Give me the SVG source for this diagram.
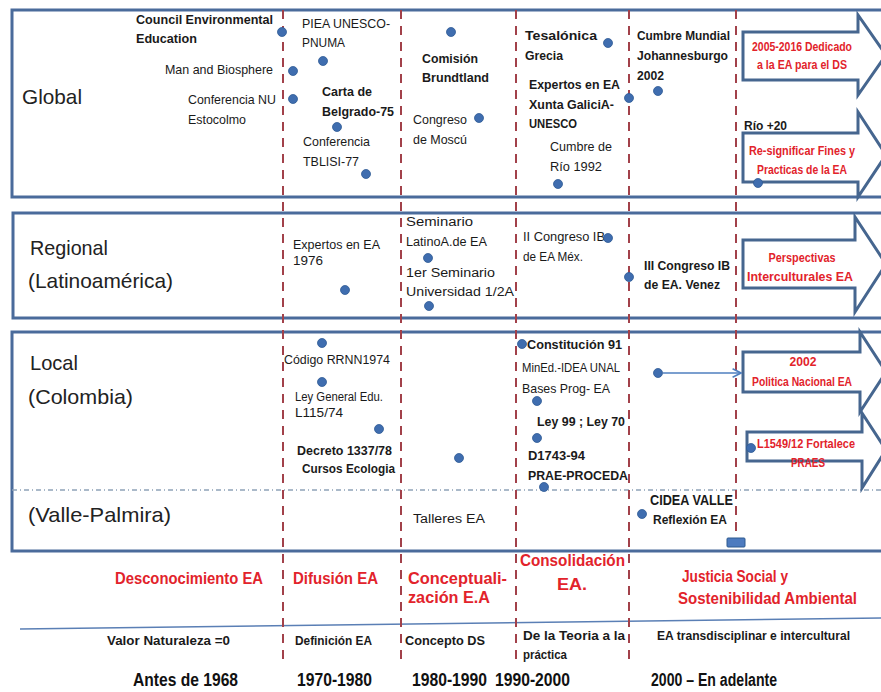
<svg xmlns="http://www.w3.org/2000/svg" width="881" height="692" viewBox="0 0 881 692">
<style>
.box{fill:none;stroke:#4a6b9b;stroke-width:3}
.vd{stroke:#a2414a;stroke-width:2;stroke-dasharray:9 7}
.dot{fill:#3f6daf;stroke:#2f5a94;stroke-width:0.8}
.arrow{fill:#fff;stroke:#46668f;stroke-width:3;stroke-linejoin:miter}
text{font-family:"Liberation Sans",Arial,sans-serif;font-size:13px;fill:#1a1a1a}
.b{font-weight:bold}
.s12{font-size:12px}
.r{fill:#e2232b;font-weight:bold;text-anchor:middle;font-size:13px}
.rl{fill:#e2232b;font-weight:bold;font-size:16px}
.lbl{font-size:21px;fill:#222}
.yr{font-weight:bold;font-size:18px;fill:#111}
.sub{font-weight:bold;font-size:12px}
.conn{stroke:#4f7fbf;stroke-width:1.5;fill:none}
</style>
<defs>
<marker id="open" viewBox="0 0 10 10" refX="9" refY="5" markerWidth="7" markerHeight="7" orient="auto">
<path d="M1,1 L9,5 L1,9" fill="none" stroke="#4f7fbf" stroke-width="1.5"/>
</marker>
</defs>
<rect width="881" height="692" fill="#fff"/>

<g id="rows">
<rect class="box" x="12" y="10" width="900" height="187"/>
<rect class="box" x="13" y="213" width="900" height="105"/>
<rect class="box" x="12" y="332" width="900" height="219"/>
<line x1="12" y1="490" x2="881" y2="490" stroke="#8fa3b8" stroke-width="1.5" stroke-dasharray="5 3 1 3"/>
<line x1="20" y1="629" x2="881" y2="618" stroke="#5a7fb5" stroke-width="1.5"/>
</g>

<g id="dividers">
<line class="vd" x1="283" y1="10" x2="283" y2="662"/>
<line class="vd" x1="401" y1="10" x2="401" y2="662"/>
<line class="vd" x1="516" y1="10" x2="516" y2="664"/>
<line class="vd" x1="629" y1="10" x2="629" y2="664"/>
<line class="vd" x1="736" y1="10" x2="736" y2="552"/>
</g>

<g id="row-labels">
<text class="lbl" x="22" y="104" textLength="60" lengthAdjust="spacingAndGlyphs">Global</text>
<text class="lbl" x="30" y="255" textLength="78" lengthAdjust="spacingAndGlyphs">Regional</text>
<text class="lbl" x="28" y="288" textLength="145" lengthAdjust="spacingAndGlyphs">(Latinoamérica)</text>
<text class="lbl" x="30" y="370" textLength="48" lengthAdjust="spacingAndGlyphs">Local</text>
<text class="lbl" x="28" y="404" textLength="105" lengthAdjust="spacingAndGlyphs">(Colombia)</text>
<text class="lbl" x="28" y="522" textLength="143" lengthAdjust="spacingAndGlyphs">(Valle-Palmira)</text>
</g>

<g id="arrows">
<g id="arrow-ds">
<polygon class="arrow" points="743,32 858,32 858,15 886,55 858,95 858,80 743,80"/>
<text class="r" x="802" y="51" textLength="100" lengthAdjust="spacingAndGlyphs">2005-2016 Dedicado</text>
<text class="r" x="802" y="69" textLength="90" lengthAdjust="spacingAndGlyphs">a la EA para el DS</text>
</g>
<g id="arrow-resignificar">
<polygon class="arrow" points="743,133 858,133 858,112 886,155 858,197 858,182 743,182"/>
<text class="r" x="802" y="155" textLength="106" lengthAdjust="spacingAndGlyphs">Re-significar Fines y</text>
<text class="r" x="802" y="174" textLength="90" lengthAdjust="spacingAndGlyphs">Practicas de la EA</text>
</g>
<g id="arrow-perspectivas">
<polygon class="arrow" points="743,240 855,240 855,217 886,264 855,312 855,288 743,288"/>
<text class="r" x="802" y="262" textLength="67" lengthAdjust="spacingAndGlyphs">Perspectivas</text>
<text class="r" x="800" y="281" textLength="106" lengthAdjust="spacingAndGlyphs">Interculturales   EA</text>
</g>
<g id="arrow-politica">
<polygon class="arrow" points="743,352 860,352 860,332 886,372 860,412 860,392 743,392"/>
<text class="r" x="803" y="366" textLength="27" lengthAdjust="spacingAndGlyphs">2002</text>
<text class="r" x="802" y="386" textLength="100" lengthAdjust="spacingAndGlyphs">Politica Nacional EA</text>
</g>
<g id="arrow-praes">
<polygon class="arrow" points="747,432 862,432 862,413 886,450 862,488 862,461 747,461"/>
<text class="r" x="806" y="448" textLength="98" lengthAdjust="spacingAndGlyphs">L1549/12 Fortalece</text>
<text class="r" x="808" y="467" textLength="34" lengthAdjust="spacingAndGlyphs">PRAES</text>
<circle class="dot" cx="751" cy="448" r="4.5"/>
</g>
</g>

<g id="connectors">
<line class="conn" x1="663" y1="373" x2="741" y2="373" marker-end="url(#open)"/>
</g>

<g id="global-events">
<g id="n-council"><text class="b" x="136" y="24" textLength="137" lengthAdjust="spacingAndGlyphs">Council Environmental</text><text class="b" x="136" y="43" textLength="61" lengthAdjust="spacingAndGlyphs">Education</text><circle class="dot" cx="282" cy="32" r="4.5"/></g>
<g id="n-mab"><text x="165" y="74" textLength="108" lengthAdjust="spacingAndGlyphs">Man and Biosphere</text><circle class="dot" cx="293" cy="71" r="4.5"/></g>
<g id="n-estocolmo"><text x="188" y="104" textLength="88" lengthAdjust="spacingAndGlyphs">Conferencia NU</text><text x="188" y="124" textLength="58" lengthAdjust="spacingAndGlyphs">Estocolmo</text><circle class="dot" cx="293" cy="99" r="4.5"/></g>
<g id="n-piea"><text x="302" y="28" textLength="88" lengthAdjust="spacingAndGlyphs">PIEA UNESCO-</text><text x="302" y="47" textLength="43" lengthAdjust="spacingAndGlyphs">PNUMA</text><circle class="dot" cx="323" cy="61" r="4.5"/></g>
<g id="n-belgrado"><text class="b" x="322" y="96" textLength="50" lengthAdjust="spacingAndGlyphs">Carta de</text><text class="b" x="322" y="116" textLength="72" lengthAdjust="spacingAndGlyphs">Belgrado-75</text><circle class="dot" cx="337" cy="127" r="4.5"/></g>
<g id="n-tblisi"><text x="303" y="146" textLength="67" lengthAdjust="spacingAndGlyphs">Conferencia</text><text x="303" y="166" textLength="56" lengthAdjust="spacingAndGlyphs">TBLISI-77</text><circle class="dot" cx="366" cy="174" r="4.5"/></g>
<g id="n-brundtland"><circle class="dot" cx="451" cy="32" r="4.5"/><text class="b" x="422" y="63" textLength="56" lengthAdjust="spacingAndGlyphs">Comisión</text><text class="b" x="422" y="82" textLength="67" lengthAdjust="spacingAndGlyphs">Brundtland</text></g>
<g id="n-moscu"><text x="413" y="124" textLength="54" lengthAdjust="spacingAndGlyphs">Congreso</text><text x="413" y="144" textLength="54" lengthAdjust="spacingAndGlyphs">de Moscú</text><circle class="dot" cx="479" cy="118" r="4.5"/></g>
<g id="n-tesalonica"><text class="b" x="525" y="40" textLength="72" lengthAdjust="spacingAndGlyphs">Tesalónica</text><text class="b" x="525" y="60" textLength="38" lengthAdjust="spacingAndGlyphs">Grecia</text><circle class="dot" cx="608" cy="43" r="4.5"/></g>
<g id="n-xunta"><text class="b" x="529" y="89" textLength="91" lengthAdjust="spacingAndGlyphs">Expertos en EA</text><text class="b" x="529" y="109" textLength="85" lengthAdjust="spacingAndGlyphs">Xunta GaliciA-</text><text class="b" x="529" y="128" textLength="48" lengthAdjust="spacingAndGlyphs">UNESCO</text><circle class="dot" cx="629" cy="98" r="4.5"/></g>
<g id="n-rio92"><text x="550" y="151" textLength="62" lengthAdjust="spacingAndGlyphs">Cumbre de</text><text x="550" y="171" textLength="52" lengthAdjust="spacingAndGlyphs">Río 1992</text><circle class="dot" cx="558" cy="184" r="4.5"/></g>
<g id="n-johannesburgo"><text class="b" x="637" y="40" textLength="93" lengthAdjust="spacingAndGlyphs">Cumbre Mundial</text><text class="b" x="637" y="60" textLength="91" lengthAdjust="spacingAndGlyphs">Johannesburgo</text><text class="b" x="637" y="80" textLength="27" lengthAdjust="spacingAndGlyphs">2002</text><circle class="dot" cx="658" cy="91" r="4.5"/></g>
<g id="n-rio20"><text class="b" x="744" y="130" textLength="43" lengthAdjust="spacingAndGlyphs">Río +20</text><circle class="dot" cx="758" cy="183" r="4.5"/></g>
</g>

<g id="regional-events">
<g id="n-expertos76"><text class="s12" x="293" y="249" textLength="87" lengthAdjust="spacingAndGlyphs">Expertos en EA</text><text class="s12" x="293" y="265" textLength="30" lengthAdjust="spacingAndGlyphs">1976</text><circle class="dot" cx="345" cy="290" r="4.5"/></g>
<g id="n-seminario"><text class="s12" x="406" y="226" textLength="67" lengthAdjust="spacingAndGlyphs">Seminario</text><text class="s12" x="406" y="246" textLength="81" lengthAdjust="spacingAndGlyphs">LatinoA.de EA</text><circle class="dot" cx="428" cy="258" r="4.5"/></g>
<g id="n-seminario-univ"><text class="s12" x="406" y="277" textLength="89" lengthAdjust="spacingAndGlyphs">1er Seminario</text><text class="s12" x="406" y="296" textLength="108" lengthAdjust="spacingAndGlyphs">Universidad  1/2A</text><circle class="dot" cx="429" cy="306" r="4.5"/></g>
<g id="n-congreso-mex"><text x="523" y="241" textLength="82" lengthAdjust="spacingAndGlyphs">II Congreso IB</text><text x="523" y="261" textLength="60" lengthAdjust="spacingAndGlyphs">de EA Méx.</text><circle class="dot" cx="608" cy="238" r="4.5"/></g>
<g id="n-congreso-venez"><circle class="dot" cx="629" cy="277" r="4.5"/><text class="b" x="644" y="270" textLength="86" lengthAdjust="spacingAndGlyphs">III Congreso IB</text><text class="b" x="644" y="289" textLength="76" lengthAdjust="spacingAndGlyphs">de EA. Venez</text></g>
</g>

<g id="local-events">
<g id="n-codigo"><circle class="dot" cx="322" cy="343" r="4.5"/><text class="s12" x="284" y="364" textLength="106" lengthAdjust="spacingAndGlyphs">Código RRNN1974</text></g>
<g id="n-ley115"><circle class="dot" cx="322" cy="382" r="4.5"/><text class="s12" x="295" y="401" textLength="88" lengthAdjust="spacingAndGlyphs">Ley General Edu.</text><text class="s12" x="295" y="417" textLength="48" lengthAdjust="spacingAndGlyphs">L115/74</text></g>
<g id="n-decreto"><circle class="dot" cx="379" cy="429" r="4.5"/><text class="b" x="297" y="455" textLength="95" lengthAdjust="spacingAndGlyphs">Decreto 1337/78</text><text class="b" x="302" y="473" textLength="93" lengthAdjust="spacingAndGlyphs">Cursos Ecologia</text></g>
<g id="n-local-8090"><circle class="dot" cx="459" cy="458" r="4.5"/></g>
<g id="n-constitucion"><circle class="dot" cx="522" cy="344" r="4.5"/><text class="b" x="527" y="349" textLength="95" lengthAdjust="spacingAndGlyphs">Constitución 91</text></g>
<g id="n-mined"><text x="522" y="372" textLength="98" lengthAdjust="spacingAndGlyphs">MinEd.-IDEA UNAL</text><text x="522" y="393" textLength="88" lengthAdjust="spacingAndGlyphs">Bases Prog- EA</text><circle class="dot" cx="537" cy="401" r="4.5"/></g>
<g id="n-ley99"><text class="b" x="537" y="426" textLength="88" lengthAdjust="spacingAndGlyphs">Ley 99 ; Ley 70</text><circle class="dot" cx="537" cy="438" r="4.5"/></g>
<g id="n-prae"><text class="b" x="528" y="460" textLength="57" lengthAdjust="spacingAndGlyphs">D1743-94</text><text class="b" x="528" y="480" textLength="100" lengthAdjust="spacingAndGlyphs">PRAE-PROCEDA</text><circle class="dot" cx="544" cy="487" r="4.5"/></g>
<g id="n-politica-src"><circle class="dot" cx="658" cy="373" r="4.5"/></g>
<g id="n-talleres"><text class="s12" x="413" y="523" textLength="72" lengthAdjust="spacingAndGlyphs">Talleres EA</text></g>
<g id="n-cidea"><circle class="dot" cx="642" cy="514" r="4.5"/><text class="b" x="650" y="505" style="font-size:14px" textLength="83" lengthAdjust="spacingAndGlyphs">CIDEA VALLE</text><text class="b" x="653" y="524" textLength="74" lengthAdjust="spacingAndGlyphs">Reflexión EA</text></g>
<g id="n-marker"><rect x="727" y="538" width="18" height="9" rx="1" fill="#4d7bbf" stroke="#2e5a8f" stroke-width="1"/></g>
</g>

<g id="stages">
<text class="rl" x="115" y="584" textLength="148" lengthAdjust="spacingAndGlyphs">Desconocimiento EA</text>
<text class="rl" x="293" y="584" textLength="85" lengthAdjust="spacingAndGlyphs">Difusión EA</text>
<text class="rl" x="408" y="584" textLength="99" lengthAdjust="spacingAndGlyphs">Conceptuali-</text>
<text class="rl" x="408" y="603" textLength="82" lengthAdjust="spacingAndGlyphs">zación E.A</text>
<text class="rl" x="520" y="566" textLength="105" lengthAdjust="spacingAndGlyphs">Consolidación</text>
<text class="rl" x="572" y="590" text-anchor="middle" textLength="30" lengthAdjust="spacingAndGlyphs">EA.</text>
<text class="rl" x="682" y="582" textLength="106" lengthAdjust="spacingAndGlyphs">Justicia Social y</text>
<text class="rl" x="678" y="604" textLength="179" lengthAdjust="spacingAndGlyphs">Sostenibilidad  Ambiental</text>
</g>

<g id="concepts">
<text class="sub" x="107" y="645" textLength="123" lengthAdjust="spacingAndGlyphs">Valor Naturaleza =0</text>
<text class="sub" x="295" y="645" textLength="77" lengthAdjust="spacingAndGlyphs">Definición EA</text>
<text class="sub" x="405" y="645" textLength="80" lengthAdjust="spacingAndGlyphs">Concepto DS</text>
<text class="sub" x="523" y="640" textLength="102" lengthAdjust="spacingAndGlyphs">De la Teoria  a la</text>
<text class="sub" x="523" y="659" textLength="44" lengthAdjust="spacingAndGlyphs">práctica</text>
<text class="sub" x="657" y="640" textLength="193" lengthAdjust="spacingAndGlyphs">EA  transdisciplinar e intercultural</text>
</g>

<g id="periods">
<text class="yr" x="133" y="686" textLength="105" lengthAdjust="spacingAndGlyphs">Antes de 1968</text>
<text class="yr" x="297" y="686" textLength="75" lengthAdjust="spacingAndGlyphs">1970-1980</text>
<text class="yr" x="412" y="686" textLength="75" lengthAdjust="spacingAndGlyphs">1980-1990</text>
<text class="yr" x="495" y="686" textLength="75" lengthAdjust="spacingAndGlyphs">1990-2000</text>
<text class="yr" x="651" y="686" textLength="126" lengthAdjust="spacingAndGlyphs">2000 – En adelante</text>
</g>
</svg>
